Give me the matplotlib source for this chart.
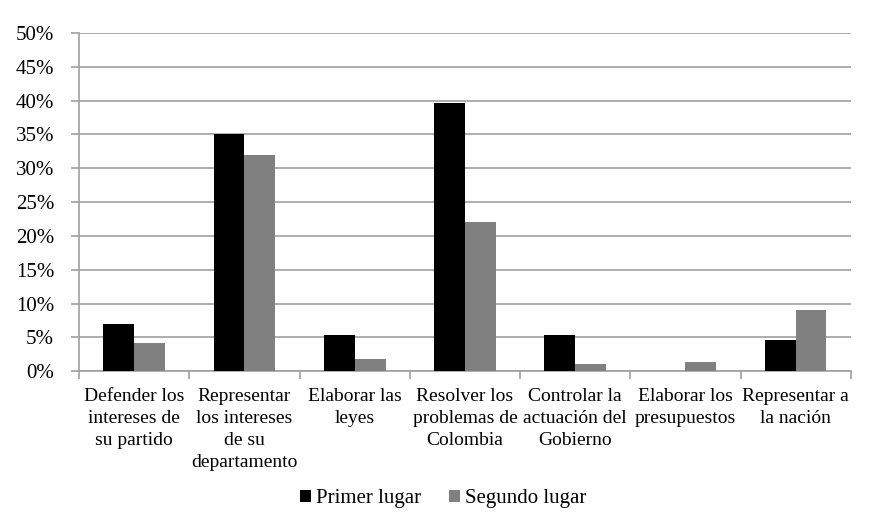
import numpy as np
import matplotlib.pyplot as plt
from matplotlib.ticker import MultipleLocator, FuncFormatter

categorias = [
    "Defender los\nintereses de\nsu partido",
    "Representar\nlos intereses\nde su\ndepartamento",
    "Elaborar las\nleyes",
    "Resolver los\nproblemas de\nColombia",
    "Controlar la\nactuación del\nGobierno",
    "Elaborar los\npresupuestos",
    "Representar a\nla nación",
]
primer_lugar = [7.0, 35.0, 5.4, 39.7, 5.3, 0.0, 4.6]
segundo_lugar = [4.2, 32.0, 1.8, 22.0, 1.1, 1.4, 9.1]

plt.rcParams['font.family'] = ['Liberation Serif', 'DejaVu Serif']

fig = plt.figure(figsize=(8.69, 5.28), dpi=100)
ax = fig.add_axes([0.091, 0.297, 0.888, 0.6405])

x = np.arange(len(categorias))
w = 0.28
ax.bar(x - w / 2, primer_lugar, w, color='black', label='Primer lugar', zorder=3)
ax.bar(x + w / 2, segundo_lugar, w, color='#808080', label='Segundo lugar', zorder=3)

ax.set_xlim(-0.5, len(categorias) - 0.5)
ax.set_ylim(0, 50)
ax.yaxis.set_major_locator(MultipleLocator(5))
ax.yaxis.set_major_formatter(FuncFormatter(lambda v, p: f"{v:.0f}%"))
ax.grid(axis='y', color='#a0a0a0', linewidth=1.2, zorder=0)

for s in ['top', 'right']:
    ax.spines[s].set_visible(False)
ax.spines['left'].set_color('#a0a0a0')
ax.spines['bottom'].set_color('#a0a0a0')
ax.spines['left'].set_linewidth(1.2)
ax.spines['bottom'].set_linewidth(1.2)

# category separators as ticks on the bottom axis
ax.set_xticks(np.arange(-0.5, len(categorias), 1.0))
ax.set_xticklabels([])
ax.set_xticks(x, minor=True)
ax.set_xticklabels(categorias, minor=True, fontsize=14, linespacing=1.38, va='top')
ax.tick_params(axis='x', which='minor', length=0, pad=12)
ax.tick_params(axis='x', which='major', length=6, color='#a0a0a0', width=1.2)
ax.tick_params(axis='y', length=6, color='#a0a0a0', width=1.2, labelsize=15, pad=12)

fig.legend(loc='center', bbox_to_anchor=(0.51, 0.055), ncol=2, frameon=False,
           fontsize=15, handlelength=0.55, handleheight=0.55, handletextpad=0.25,
           columnspacing=1.3)

fig.savefig('out.png', dpi=100)
